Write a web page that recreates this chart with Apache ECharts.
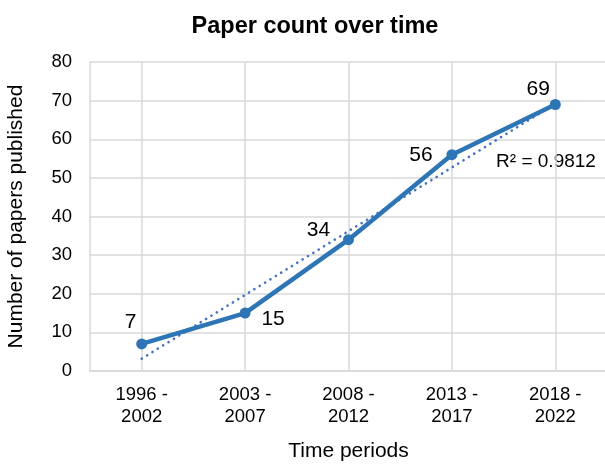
<!DOCTYPE html>
<html>
<head>
<meta charset="utf-8">
<script src="https://cdn.jsdelivr.net/npm/echarts@6/dist/echarts.min.js"></script>
<style>
  html, body { margin: 0; padding: 0; background: #fff; }
  #chart { width: 605px; height: 466px; }
</style>
</head>
<body>
<div id="chart"></div>
<script>
const periods = ['1996 -\n2002', '2003 -\n2007', '2008 -\n2012', '2013 -\n2017', '2018 -\n2022']
const paperCounts = [7, 15, 34, 56, 69]
// linear trendline as drawn in the picture
const trendValues = [3.2, 19.7, 36.2, 52.7, 69.2]
const yTicks = [0, 10, 20, 30, 40, 50, 60, 70, 80]
const rSquaredText = 'R² = 0.9812'
// where each value label sits relative to its point
const labelShifts = [[-11, -22], [28, 6], [-30, -9], [-31, 1], [-17, -15]]

const font = 'Liberation Sans, Arial, sans-serif'
const gridColor = '#d9d9d9'
const myChart = echarts.init(document.getElementById('chart'))

const option = {
  animation: false,
  title: {
    text: 'Paper count over time',
    left: 310,
    textAlign: 'center',
    top: 10,
    textStyle: { fontFamily: font, fontSize: 23.5, fontWeight: 'bold', color: '#000' }
  },
  grid: { left: 90, right: -2, top: 62, bottom: 95, containLabel: false, outerBoundsMode: 'none' },
  xAxis: {
    type: 'category',
    data: periods,
    boundaryGap: true,
    name: 'Time periods',
    nameLocation: 'middle',
    nameGap: 70,
    nameTextStyle: { fontFamily: font, fontSize: 21, color: '#000' },
    axisLine: { show: true, lineStyle: { color: gridColor, width: 1.5 } },
    axisTick: { show: false },
    splitLine: { show: false },
    axisLabel: {
      fontFamily: font, fontSize: 18.5, color: '#000', margin: 13, lineHeight: 22
    }
  },
  yAxis: {
    type: 'value',
    min: yTicks[0],
    max: yTicks[yTicks.length - 1],
    interval: 10,
    name: 'Number of papers published',
    nameLocation: 'middle',
    nameGap: 63,
    nameTextStyle: { fontFamily: font, fontSize: 21, color: '#000' },
    axisLine: { show: true, lineStyle: { color: gridColor, width: 1.5 } },
    axisTick: { show: false },
    axisLabel: { fontFamily: font, fontSize: 18.5, color: '#000', margin: 18 },
    splitLine: { lineStyle: { color: gridColor, width: 1.5 } }
  },
  graphic: [
    {
      type: 'text',
      x: 546,
      y: 162,
      style: {
        text: rSquaredText,
        font: '19px ' + font,
        fill: '#000',
        align: 'center',
        verticalAlign: 'middle'
      }
    }
  ],
  series: [
    {
      name: 'grid',
      type: 'line',
      z: 0,
      data: [],
      markLine: {
        z: 0,
        silent: true,
        symbol: 'none',
        label: { show: false },
        lineStyle: { color: gridColor, width: 1.5, type: 'solid' },
        data: periods.map((p) => ({ xAxis: p }))
      }
    },
    {
      name: 'trend',
      type: 'line',
      data: trendValues,
      symbol: 'none',
      z: 6,
      lineStyle: { color: '#4472C4', width: 2.6, type: [0.1, 6.2], cap: 'round' }
    },
    {
      name: 'papers',
      type: 'line',
      data: paperCounts.map((v, i) => ({
        value: v,
        label: { offset: labelShifts[i] }
      })),
      symbol: 'circle',
      symbolSize: 11,
      z: 7,
      itemStyle: { color: '#2E75B6', borderWidth: 0 },
      lineStyle: { color: '#2E75B6', width: 4.5 },
      label: {
        show: true,
        position: 'inside',
        align: 'center',
        verticalAlign: 'middle',
        fontFamily: font,
        fontSize: 21,
        color: '#000'
      }
    }
  ]
}

myChart.setOption(option)
</script>
</body>
</html>
